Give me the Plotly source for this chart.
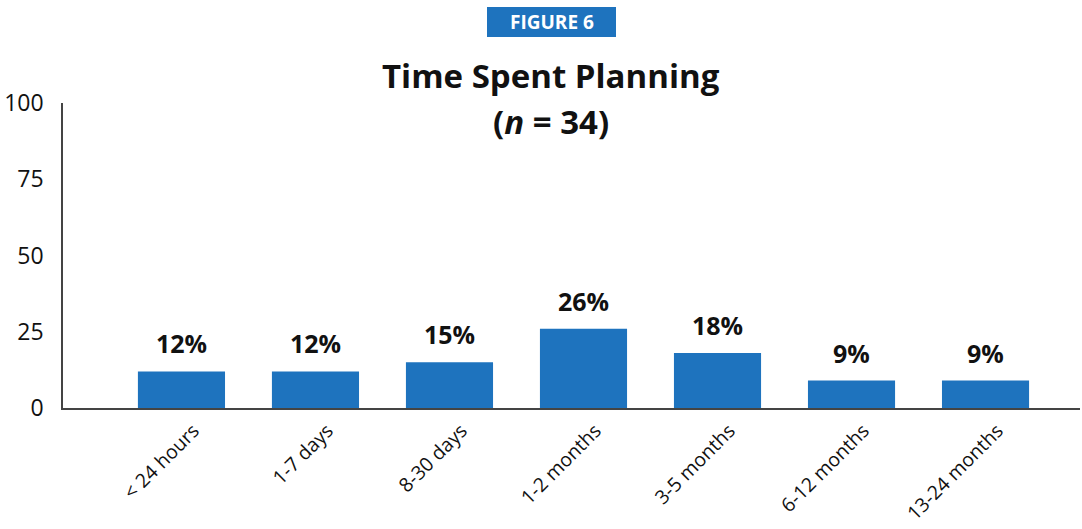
import plotly.graph_objects as go

categories = ["< 24 hours", "1-7 days", "8-30 days", "1-2 months", "3-5 months", "6-12 months", "13-24 months"]
values = [12, 12, 15, 26, 18, 9, 9]
labels = ["12%", "12%", "15%", "26%", "18%", "9%", "9%"]
y_ticks = [0, 25, 50, 75, 100]

FONT = "Open Sans"
BLUE = "#1e73be"

L, R, T, B = 63, 2, 103, 121
W, H = 1082, 529
PW = W - L - R
PH = H - T - B


def px(x):
    return (x - L) / PW


def py(y):
    return (T + PH - y) / PH


fig = go.Figure()
fig.add_trace(go.Bar(
    x=list(range(len(categories))), y=values,
    width=0.65, marker=dict(color=BLUE, line=dict(width=0)),
    hoverinfo="skip",
))

for i, (v, lab) in enumerate(zip(values, labels)):
    fig.add_annotation(x=i, y=v, text=f"<b>{lab}</b>", showarrow=False,
                       yanchor="bottom", yshift=9,
                       font=dict(family=FONT, size=25, color="#111"))

fig.add_annotation(xref="paper", yref="paper", x=px(551), y=py(75),
                   text="<b>Time Spent Planning</b>", showarrow=False,
                   xanchor="center", yanchor="middle",
                   font=dict(family=FONT, size=33, color="#111"))
fig.add_annotation(xref="paper", yref="paper", x=px(551), y=py(121),
                   text="<b>(<i>n</i> = 34)</b>", showarrow=False,
                   xanchor="center", yanchor="middle",
                   font=dict(family=FONT, size=33, color="#111"))

# FIGURE 6 badge
fig.add_shape(type="rect", xref="paper", yref="paper",
              x0=px(487), x1=px(616), y0=py(37), y1=py(7),
              fillcolor=BLUE, line=dict(width=0), layer="above")
fig.add_annotation(xref="paper", yref="paper", x=px(551.5), y=py(22),
                   text="<b>FIGURE 6</b>", showarrow=False, xanchor="center", yanchor="middle",
                   font=dict(family=FONT, size=19, color="white"))

fig.update_layout(
    width=W, height=H,
    margin=dict(l=L, r=R, t=T, b=B, autoexpand=False),
    paper_bgcolor="white", plot_bgcolor="white",
    showlegend=False,
    xaxis=dict(
        range=[-0.884, 6.705], automargin=False,
        tickmode="array", tickvals=list(range(len(categories))), ticktext=categories,
        tickangle=-45, showgrid=False, zeroline=False,
        showline=True, linecolor="#444", linewidth=1.5,
        ticks="", ticklabelshift=12, ticklabelstandoff=2,
        tickfont=dict(family=FONT, size=19.5, color="#111"),
    ),
    yaxis=dict(
        range=[0, 100], tickvals=y_ticks, showgrid=False, zeroline=False,
        showline=True, linecolor="#444", linewidth=1.5, automargin=False,
        ticks="", ticklabelstandoff=13,
        tickfont=dict(family=FONT, size=23, color="#111"),
    ),
)

fig.write_html("out.html", config={"displayModeBar": False},
               post_script="document.body.style.margin='0';")
